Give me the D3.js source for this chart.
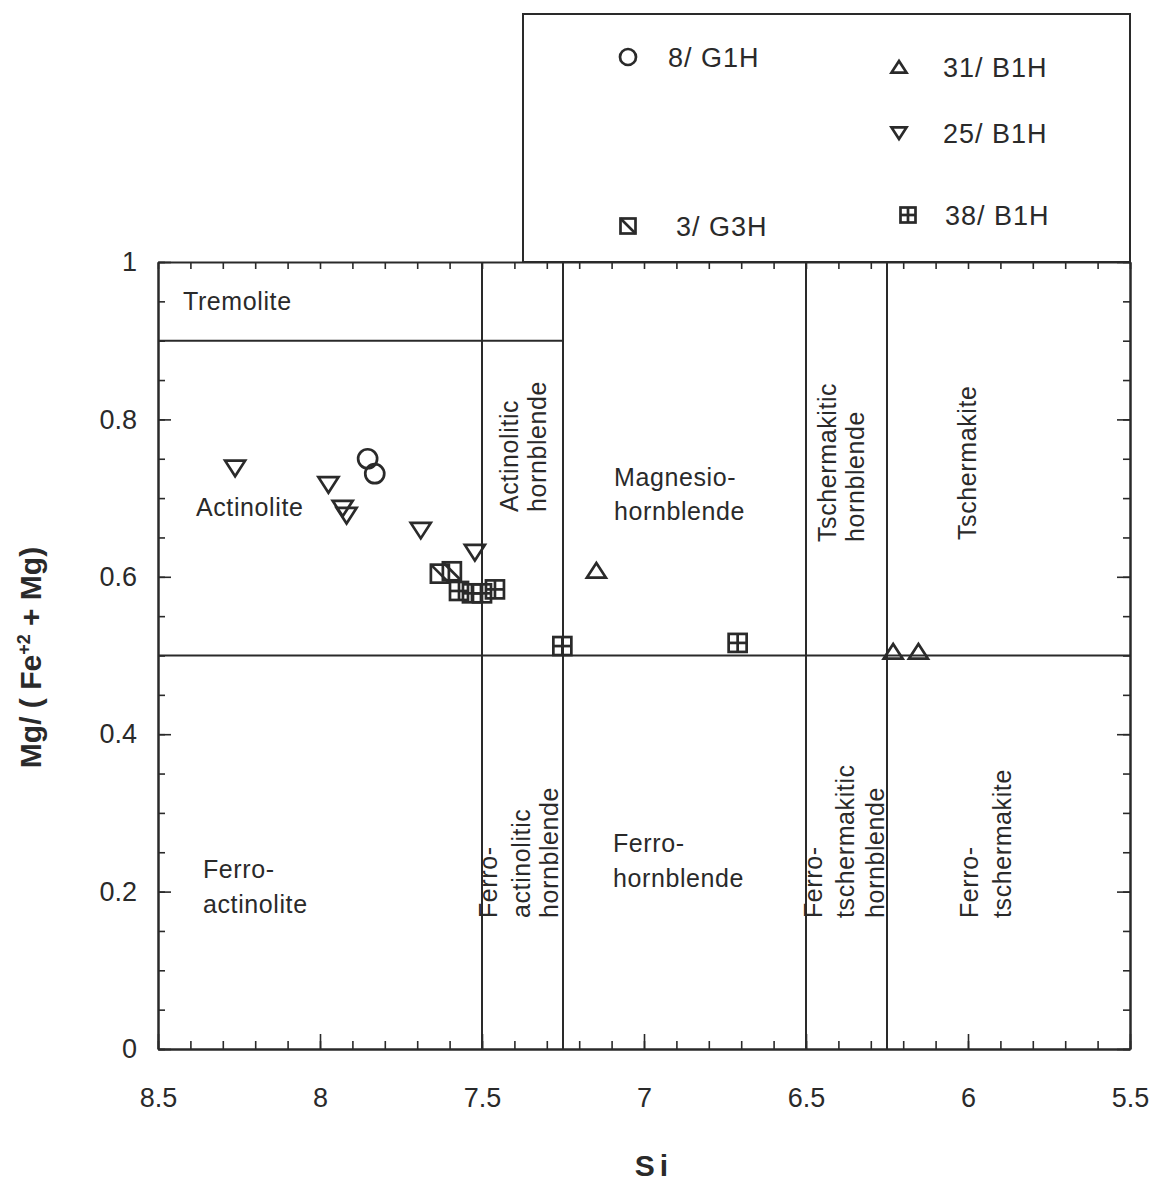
<!DOCTYPE html>
<html>
<head>
<meta charset="utf-8">
<script src="https://cdn.jsdelivr.net/npm/d3@7"></script>
<style>
  body { margin: 0; background: #fff; }
  text { font-family: "Liberation Sans", Arial, sans-serif; fill: #2a2a2a; }
</style>
</head>
<body>
<div id="chart"></div>
<script>
// sample series: Si (x) and Mg/(Fe2+ + Mg) (y)
const si_8G1H = [7.853, 7.831];
const mg_8G1H = [0.750, 0.731];
const si_3G3H = [7.630, 7.593];
const mg_3G3H = [0.604, 0.607];
const si_31B1H = [7.147, 6.231, 6.153];
const mg_31B1H = [0.608, 0.505, 0.505];
const si_25B1H = [8.262, 7.974, 7.930, 7.918, 7.689, 7.522];
const mg_25B1H = [0.738, 0.717, 0.687, 0.678, 0.659, 0.631];
const si_38B1H = [7.571, 7.531, 7.500, 7.460, 7.252, 6.711];
const mg_38B1H = [0.582, 0.579, 0.579, 0.584, 0.512, 0.516];

// field boundaries of the classification diagram
const siBounds = [7.5, 7.25, 6.5, 6.25];
const mgBounds = [0.5];
const tremoliteMg = 0.9;
const tremoliteSiEnd = 7.25;

// tick labels
const xTickValues = [8.5, 8, 7.5, 7, 6.5, 6, 5.5];
const yTickValues = [0, 0.2, 0.4, 0.6, 0.8, 1];

const series = [
  {name: "8/ G1H", sym: "circle", si: si_8G1H, mg: mg_8G1H},
  {name: "3/ G3H", sym: "diag", si: si_3G3H, mg: mg_3G3H},
  {name: "31/ B1H", sym: "up", si: si_31B1H, mg: mg_31B1H},
  {name: "25/ B1H", sym: "down", si: si_25B1H, mg: mg_25B1H},
  {name: "38/ B1H", sym: "cross", si: si_38B1H, mg: mg_38B1H}
];

const W = 1156, H = 1184;
const plot = {left: 158, right: 1130, top: 262, bottom: 1049};

const svg = d3.select("#chart").append("svg")
  .attr("width", W).attr("height", H);

const x = d3.scaleLinear().domain([8.5, 5.5]).range([plot.left, plot.right]);
const y = d3.scaleLinear().domain([0, 1]).range([plot.bottom, plot.top]);

const ink = "#2a2a2a";

// legend box (sits on top of the plot frame)
svg.append("rect")
  .attr("x", 523).attr("y", 14)
  .attr("width", plot.right - 523).attr("height", plot.top - 14)
  .attr("fill", "none").attr("stroke", ink).attr("stroke-width", 2);

// axes, ticks pointing inward
function steps(a, b, step) {
  const out = [];
  for (let v = a; v <= b + 1e-9; v += step) out.push(+v.toFixed(3));
  return out;
}
const xMinor = steps(5.5, 8.5, 0.1);
const yMinor = steps(0, 1, 0.05);

const axisStyle = g => {
  g.selectAll(".domain").attr("stroke", ink).attr("stroke-width", 2);
  g.selectAll(".tick line").attr("stroke", ink).attr("stroke-width", 1.6);
};
const tickFont = 27;

svg.append("g").attr("transform", `translate(0,${plot.bottom})`)
  .call(d3.axisBottom(x).tickValues(xMinor).tickSizeInner(-8).tickSizeOuter(0).tickFormat(""))
  .call(axisStyle);
svg.append("g").attr("transform", `translate(0,${plot.bottom})`)
  .call(d3.axisBottom(x).tickValues(xTickValues).tickSizeInner(-15).tickSizeOuter(0)
    .tickPadding(39).tickFormat(d3.format("")))
  .call(axisStyle)
  .call(g => g.selectAll("text").attr("font-size", tickFont).attr("fill", ink));

svg.append("g").attr("transform", `translate(0,${plot.top})`)
  .call(d3.axisTop(x).tickValues(xMinor).tickSizeInner(-7).tickSizeOuter(0).tickFormat(""))
  .call(axisStyle);

svg.append("g").attr("transform", `translate(${plot.left},0)`)
  .call(d3.axisLeft(y).tickValues(yMinor).tickSizeInner(-7).tickSizeOuter(0).tickFormat(""))
  .call(axisStyle);
svg.append("g").attr("transform", `translate(${plot.left},0)`)
  .call(d3.axisLeft(y).tickValues(yTickValues).tickSizeInner(-13).tickSizeOuter(0)
    .tickPadding(21).tickFormat(d3.format("")))
  .call(axisStyle)
  .call(g => g.selectAll("text").attr("font-size", tickFont).attr("fill", ink));

svg.append("g").attr("transform", `translate(${plot.right},0)`)
  .call(d3.axisRight(y).tickValues(yMinor).tickSizeInner(-7).tickSizeOuter(0).tickFormat(""))
  .call(axisStyle);
svg.append("g").attr("transform", `translate(${plot.right},0)`)
  .call(d3.axisRight(y).tickValues(yTickValues).tickSizeInner(-13).tickSizeOuter(0).tickFormat(""))
  .call(axisStyle);

// boundary lines
const bounds = svg.append("g").attr("stroke", ink).attr("stroke-width", 2);
bounds.selectAll(".vb").data(siBounds).enter().append("line")
  .attr("x1", d => x(d)).attr("x2", d => x(d))
  .attr("y1", y(0)).attr("y2", y(1));
bounds.selectAll(".hb").data(mgBounds).enter().append("line")
  .attr("x1", x(8.5)).attr("x2", x(5.5))
  .attr("y1", d => y(d)).attr("y2", d => y(d));
bounds.append("line")
  .attr("x1", x(8.5)).attr("x2", x(tremoliteSiEnd))
  .attr("y1", y(tremoliteMg)).attr("y2", y(tremoliteMg));

// field names
const fieldFont = 25;
const flat = [
  {t: "Tremolite", x: 183, y: 310},
  {t: "Actinolite", x: 196, y: 516},
  {t: "Magnesio-", x: 614, y: 486},
  {t: "hornblende", x: 614, y: 520},
  {t: "Ferro-", x: 203, y: 878},
  {t: "actinolite", x: 203, y: 913},
  {t: "Ferro-", x: 613, y: 852},
  {t: "hornblende", x: 613, y: 887}
];
svg.selectAll(".flat").data(flat).enter().append("text")
  .attr("x", d => d.x).attr("y", d => d.y)
  .attr("font-size", fieldFont).attr("letter-spacing", 0.6).text(d => d.t);

const rotated = [
  {t: "Actinolitic", x: 518, y: 512},
  {t: "hornblende", x: 546, y: 512},
  {t: "Tschermakitic", x: 836, y: 542},
  {t: "hornblende", x: 864, y: 542},
  {t: "Tschermakite", x: 976, y: 540},
  {t: "Ferro-", x: 497, y: 918},
  {t: "actinolitic", x: 530, y: 918},
  {t: "hornblende", x: 558, y: 918},
  {t: "Ferro-", x: 822, y: 918},
  {t: "tschermakitic", x: 854, y: 918},
  {t: "hornblende", x: 884, y: 918},
  {t: "Ferro-", x: 978, y: 918},
  {t: "tschermakite", x: 1011, y: 918}
];
svg.selectAll(".rot").data(rotated).enter().append("text")
  .attr("transform", d => `translate(${d.x},${d.y}) rotate(-90)`)
  .attr("font-size", fieldFont).attr("letter-spacing", 0.6).text(d => d.t);

// axis titles
const yTitle = svg.append("text")
  .attr("transform", `translate(41,${(plot.top + plot.bottom) / 2 + 2}) rotate(-90)`)
  .attr("text-anchor", "middle").attr("font-size", 30).attr("font-weight", "bold");
yTitle.append("tspan").text("Mg/ ( Fe");
yTitle.append("tspan").attr("dy", -11).attr("font-size", 18).text("+2");
yTitle.append("tspan").attr("dy", 11).text(" + Mg)");

svg.append("text")
  .attr("x", 654).attr("y", 1176)
  .attr("text-anchor", "middle").attr("font-size", 30).attr("font-weight", "bold")
  .attr("letter-spacing", 5)
  .text("Si");

// marker shapes
function marker(g, sym, s) {
  const h = s / 2;
  const p = g.append("g").attr("fill", "none").attr("stroke", ink).attr("stroke-width", 2.7);
  if (sym === "circle") {
    p.append("circle").attr("r", h);
  } else if (sym === "up") {
    p.append("path").attr("d", `M0,${-h * 0.8}L${h},${h * 0.75}L${-h},${h * 0.75}Z`);
  } else if (sym === "down") {
    p.append("path").attr("d", `M0,${h * 0.8}L${h},${-h * 0.75}L${-h},${-h * 0.75}Z`);
  } else if (sym === "diag") {
    p.append("rect").attr("x", -h).attr("y", -h).attr("width", s).attr("height", s);
    p.append("line").attr("x1", -h).attr("y1", -h).attr("x2", h).attr("y2", h);
  } else if (sym === "cross") {
    p.append("rect").attr("x", -h).attr("y", -h).attr("width", s).attr("height", s);
    p.append("line").attr("x1", -h).attr("y1", 0).attr("x2", h).attr("y2", 0);
    p.append("line").attr("x1", 0).attr("y1", -h).attr("x2", 0).attr("y2", h);
  }
}
const markSize = {circle: 19, up: 19, down: 20, diag: 18, cross: 18};

series.forEach(s => {
  const pts = s.si.map((v, i) => ({si: v, mg: s.mg[i]}));
  svg.append("g").selectAll("g").data(pts).enter().append("g")
    .attr("transform", d => `translate(${x(d.si)},${y(d.mg)})`)
    .each(function() { marker(d3.select(this), s.sym, markSize[s.sym]); });
});

// legend entries
const legendPos = {
  "8/ G1H": {sx: 628, sy: 57, tx: 668},
  "31/ B1H": {sx: 899, sy: 67, tx: 943},
  "25/ B1H": {sx: 899, sy: 133, tx: 943},
  "3/ G3H": {sx: 628, sy: 226, tx: 676},
  "38/ B1H": {sx: 908, sy: 215, tx: 945}
};
series.forEach(s => {
  const p = legendPos[s.name];
  const g = svg.append("g").attr("transform", `translate(${p.sx},${p.sy})`);
  marker(g, s.sym, s.sym === "circle" ? 16 : 15);
  svg.append("text").attr("x", p.tx).attr("y", p.sy + 10)
    .attr("font-size", 27).attr("letter-spacing", 1).text(s.name);
});
</script>
</body>
</html>
